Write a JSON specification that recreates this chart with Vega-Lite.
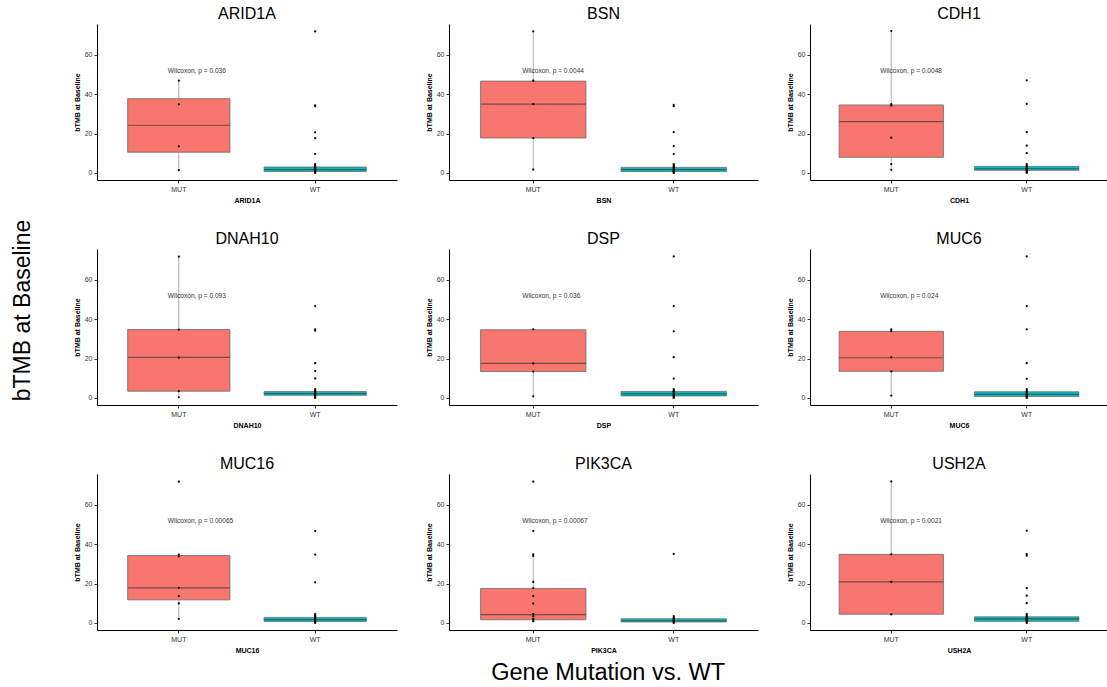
{
"$schema":"https://vega.github.io/schema/vega-lite/v6.json",
"padding":{"left":12,"top":6,"right":0,"bottom":0},
"title":{"text":"Gene Mutation vs. WT","orient":"bottom","fontSize":23.5,"offset":8,"anchor":"middle","dx":48},
"vconcat":[{"title":{"text":"bTMB at Baseline","orient":"left","fontSize":23,"offset":38,"anchor":"middle","dx":19},
"columns":3,"align":"each","spacing":{"row":28,"column":28},
"concat":[
{"width":300,"height":156,"title":"ARID1A","encoding":{"x":{"field":"x","type":"nominal","title":"ARID1A","scale":{"domain":["MUT","WT"],"paddingInner":0,"paddingOuter":0.1}}},
"layer":[
{"data":{"name":"boxes"},"transform":[{"filter":"datum.g==='ARID1A'"}],"mark":{"type":"rule","color":"#8c8c8c","strokeWidth":0.7},"encoding":{"y":{"field":"lo","type":"quantitative","title":"bTMB at Baseline","scale":{"domain":[-3.6,75.6],"nice":false,"zero":false}},"y2":{"field":"hi"}}},
{"data":{"name":"boxes"},"transform":[{"filter":"datum.g==='ARID1A'"}],"mark":{"type":"bar","width":{"band":0.75},"stroke":"#6b6b6b","strokeWidth":0.8},"encoding":{"y":{"field":"q1","type":"quantitative","title":"bTMB at Baseline"},"y2":{"field":"q3"},"fill":{"field":"x","type":"nominal","scale":{"domain":["MUT","WT"],"range":["#F8766D","#00BFC4"]},"legend":null}}},
{"data":{"name":"boxes"},"transform":[{"filter":"datum.g==='ARID1A'"}],"mark":{"type":"tick","color":"#3a3a3a","size":102,"thickness":1.2},"encoding":{"y":{"field":"med","type":"quantitative","title":"bTMB at Baseline"}}},
{"data":{"name":"pts"},"transform":[{"filter":"datum.g==='ARID1A'"}],"mark":{"type":"point","filled":true,"color":"black","size":5,"opacity":1},"encoding":{"y":{"field":"v","type":"quantitative","title":"bTMB at Baseline"}}},
{"data":{"name":"labs"},"transform":[{"filter":"datum.g==='ARID1A'"}],"mark":{"type":"text","align":"left","baseline":"middle","dx":-11,"fontSize":6.6,"color":"#333"},"encoding":{"x":{"datum":"MUT","type":"nominal"},"y":{"datum":51.5,"type":"quantitative"},"text":{"field":"p"}}}
]},
{"width":309,"height":156,"title":"BSN","encoding":{"x":{"field":"x","type":"nominal","title":"BSN","scale":{"domain":["MUT","WT"],"paddingInner":0,"paddingOuter":0.1}}},
"layer":[
{"data":{"name":"boxes"},"transform":[{"filter":"datum.g==='BSN'"}],"mark":{"type":"rule","color":"#8c8c8c","strokeWidth":0.7},"encoding":{"y":{"field":"lo","type":"quantitative","title":"bTMB at Baseline","scale":{"domain":[-3.6,75.6],"nice":false,"zero":false}},"y2":{"field":"hi"}}},
{"data":{"name":"boxes"},"transform":[{"filter":"datum.g==='BSN'"}],"mark":{"type":"bar","width":{"band":0.75},"stroke":"#6b6b6b","strokeWidth":0.8},"encoding":{"y":{"field":"q1","type":"quantitative","title":"bTMB at Baseline"},"y2":{"field":"q3"},"fill":{"field":"x","type":"nominal","scale":{"domain":["MUT","WT"],"range":["#F8766D","#00BFC4"]},"legend":null}}},
{"data":{"name":"boxes"},"transform":[{"filter":"datum.g==='BSN'"}],"mark":{"type":"tick","color":"#3a3a3a","size":105,"thickness":1.2},"encoding":{"y":{"field":"med","type":"quantitative","title":"bTMB at Baseline"}}},
{"data":{"name":"pts"},"transform":[{"filter":"datum.g==='BSN'"}],"mark":{"type":"point","filled":true,"color":"black","size":5,"opacity":1},"encoding":{"y":{"field":"v","type":"quantitative","title":"bTMB at Baseline"}}},
{"data":{"name":"labs"},"transform":[{"filter":"datum.g==='BSN'"}],"mark":{"type":"text","align":"left","baseline":"middle","dx":-11,"fontSize":6.6,"color":"#333"},"encoding":{"x":{"datum":"MUT","type":"nominal"},"y":{"datum":51.5,"type":"quantitative"},"text":{"field":"p"}}}
]},
{"width":298,"height":156,"title":"CDH1","encoding":{"x":{"field":"x","type":"nominal","title":"CDH1","scale":{"domain":["MUT","WT"],"paddingInner":0,"paddingOuter":0.1}}},
"layer":[
{"data":{"name":"boxes"},"transform":[{"filter":"datum.g==='CDH1'"}],"mark":{"type":"rule","color":"#8c8c8c","strokeWidth":0.7},"encoding":{"y":{"field":"lo","type":"quantitative","title":"bTMB at Baseline","scale":{"domain":[-3.6,75.6],"nice":false,"zero":false}},"y2":{"field":"hi"}}},
{"data":{"name":"boxes"},"transform":[{"filter":"datum.g==='CDH1'"}],"mark":{"type":"bar","width":{"band":0.77},"stroke":"#6b6b6b","strokeWidth":0.8},"encoding":{"y":{"field":"q1","type":"quantitative","title":"bTMB at Baseline"},"y2":{"field":"q3"},"fill":{"field":"x","type":"nominal","scale":{"domain":["MUT","WT"],"range":["#F8766D","#00BFC4"]},"legend":null}}},
{"data":{"name":"boxes"},"transform":[{"filter":"datum.g==='CDH1'"}],"mark":{"type":"tick","color":"#3a3a3a","size":104,"thickness":1.2},"encoding":{"y":{"field":"med","type":"quantitative","title":"bTMB at Baseline"}}},
{"data":{"name":"pts"},"transform":[{"filter":"datum.g==='CDH1'"}],"mark":{"type":"point","filled":true,"color":"black","size":5,"opacity":1},"encoding":{"y":{"field":"v","type":"quantitative","title":"bTMB at Baseline"}}},
{"data":{"name":"labs"},"transform":[{"filter":"datum.g==='CDH1'"}],"mark":{"type":"text","align":"left","baseline":"middle","dx":-11,"fontSize":6.6,"color":"#333"},"encoding":{"x":{"datum":"MUT","type":"nominal"},"y":{"datum":51.5,"type":"quantitative"},"text":{"field":"p"}}}
]},
{"width":300,"height":156,"title":"DNAH10","encoding":{"x":{"field":"x","type":"nominal","title":"DNAH10","scale":{"domain":["MUT","WT"],"paddingInner":0,"paddingOuter":0.1}}},
"layer":[
{"data":{"name":"boxes"},"transform":[{"filter":"datum.g==='DNAH10'"}],"mark":{"type":"rule","color":"#8c8c8c","strokeWidth":0.7},"encoding":{"y":{"field":"lo","type":"quantitative","title":"bTMB at Baseline","scale":{"domain":[-3.6,75.6],"nice":false,"zero":false}},"y2":{"field":"hi"}}},
{"data":{"name":"boxes"},"transform":[{"filter":"datum.g==='DNAH10'"}],"mark":{"type":"bar","width":{"band":0.75},"stroke":"#6b6b6b","strokeWidth":0.8},"encoding":{"y":{"field":"q1","type":"quantitative","title":"bTMB at Baseline"},"y2":{"field":"q3"},"fill":{"field":"x","type":"nominal","scale":{"domain":["MUT","WT"],"range":["#F8766D","#00BFC4"]},"legend":null}}},
{"data":{"name":"boxes"},"transform":[{"filter":"datum.g==='DNAH10'"}],"mark":{"type":"tick","color":"#3a3a3a","size":102,"thickness":1.2},"encoding":{"y":{"field":"med","type":"quantitative","title":"bTMB at Baseline"}}},
{"data":{"name":"pts"},"transform":[{"filter":"datum.g==='DNAH10'"}],"mark":{"type":"point","filled":true,"color":"black","size":5,"opacity":1},"encoding":{"y":{"field":"v","type":"quantitative","title":"bTMB at Baseline"}}},
{"data":{"name":"labs"},"transform":[{"filter":"datum.g==='DNAH10'"}],"mark":{"type":"text","align":"left","baseline":"middle","dx":-11,"fontSize":6.6,"color":"#333"},"encoding":{"x":{"datum":"MUT","type":"nominal"},"y":{"datum":51.5,"type":"quantitative"},"text":{"field":"p"}}}
]},
{"width":309,"height":156,"title":"DSP","encoding":{"x":{"field":"x","type":"nominal","title":"DSP","scale":{"domain":["MUT","WT"],"paddingInner":0,"paddingOuter":0.1}}},
"layer":[
{"data":{"name":"boxes"},"transform":[{"filter":"datum.g==='DSP'"}],"mark":{"type":"rule","color":"#8c8c8c","strokeWidth":0.7},"encoding":{"y":{"field":"lo","type":"quantitative","title":"bTMB at Baseline","scale":{"domain":[-3.6,75.6],"nice":false,"zero":false}},"y2":{"field":"hi"}}},
{"data":{"name":"boxes"},"transform":[{"filter":"datum.g==='DSP'"}],"mark":{"type":"bar","width":{"band":0.75},"stroke":"#6b6b6b","strokeWidth":0.8},"encoding":{"y":{"field":"q1","type":"quantitative","title":"bTMB at Baseline"},"y2":{"field":"q3"},"fill":{"field":"x","type":"nominal","scale":{"domain":["MUT","WT"],"range":["#F8766D","#00BFC4"]},"legend":null}}},
{"data":{"name":"boxes"},"transform":[{"filter":"datum.g==='DSP'"}],"mark":{"type":"tick","color":"#3a3a3a","size":105,"thickness":1.2},"encoding":{"y":{"field":"med","type":"quantitative","title":"bTMB at Baseline"}}},
{"data":{"name":"pts"},"transform":[{"filter":"datum.g==='DSP'"}],"mark":{"type":"point","filled":true,"color":"black","size":5,"opacity":1},"encoding":{"y":{"field":"v","type":"quantitative","title":"bTMB at Baseline"}}},
{"data":{"name":"labs"},"transform":[{"filter":"datum.g==='DSP'"}],"mark":{"type":"text","align":"left","baseline":"middle","dx":-11,"fontSize":6.6,"color":"#333"},"encoding":{"x":{"datum":"MUT","type":"nominal"},"y":{"datum":51.5,"type":"quantitative"},"text":{"field":"p"}}}
]},
{"width":298,"height":156,"title":"MUC6","encoding":{"x":{"field":"x","type":"nominal","title":"MUC6","scale":{"domain":["MUT","WT"],"paddingInner":0,"paddingOuter":0.1}}},
"layer":[
{"data":{"name":"boxes"},"transform":[{"filter":"datum.g==='MUC6'"}],"mark":{"type":"rule","color":"#8c8c8c","strokeWidth":0.7},"encoding":{"y":{"field":"lo","type":"quantitative","title":"bTMB at Baseline","scale":{"domain":[-3.6,75.6],"nice":false,"zero":false}},"y2":{"field":"hi"}}},
{"data":{"name":"boxes"},"transform":[{"filter":"datum.g==='MUC6'"}],"mark":{"type":"bar","width":{"band":0.77},"stroke":"#6b6b6b","strokeWidth":0.8},"encoding":{"y":{"field":"q1","type":"quantitative","title":"bTMB at Baseline"},"y2":{"field":"q3"},"fill":{"field":"x","type":"nominal","scale":{"domain":["MUT","WT"],"range":["#F8766D","#00BFC4"]},"legend":null}}},
{"data":{"name":"boxes"},"transform":[{"filter":"datum.g==='MUC6'"}],"mark":{"type":"tick","color":"#3a3a3a","size":104,"thickness":1.2},"encoding":{"y":{"field":"med","type":"quantitative","title":"bTMB at Baseline"}}},
{"data":{"name":"pts"},"transform":[{"filter":"datum.g==='MUC6'"}],"mark":{"type":"point","filled":true,"color":"black","size":5,"opacity":1},"encoding":{"y":{"field":"v","type":"quantitative","title":"bTMB at Baseline"}}},
{"data":{"name":"labs"},"transform":[{"filter":"datum.g==='MUC6'"}],"mark":{"type":"text","align":"left","baseline":"middle","dx":-11,"fontSize":6.6,"color":"#333"},"encoding":{"x":{"datum":"MUT","type":"nominal"},"y":{"datum":51.5,"type":"quantitative"},"text":{"field":"p"}}}
]},
{"width":300,"height":156,"title":"MUC16","encoding":{"x":{"field":"x","type":"nominal","title":"MUC16","scale":{"domain":["MUT","WT"],"paddingInner":0,"paddingOuter":0.1}}},
"layer":[
{"data":{"name":"boxes"},"transform":[{"filter":"datum.g==='MUC16'"}],"mark":{"type":"rule","color":"#8c8c8c","strokeWidth":0.7},"encoding":{"y":{"field":"lo","type":"quantitative","title":"bTMB at Baseline","scale":{"domain":[-3.6,75.6],"nice":false,"zero":false}},"y2":{"field":"hi"}}},
{"data":{"name":"boxes"},"transform":[{"filter":"datum.g==='MUC16'"}],"mark":{"type":"bar","width":{"band":0.75},"stroke":"#6b6b6b","strokeWidth":0.8},"encoding":{"y":{"field":"q1","type":"quantitative","title":"bTMB at Baseline"},"y2":{"field":"q3"},"fill":{"field":"x","type":"nominal","scale":{"domain":["MUT","WT"],"range":["#F8766D","#00BFC4"]},"legend":null}}},
{"data":{"name":"boxes"},"transform":[{"filter":"datum.g==='MUC16'"}],"mark":{"type":"tick","color":"#3a3a3a","size":102,"thickness":1.2},"encoding":{"y":{"field":"med","type":"quantitative","title":"bTMB at Baseline"}}},
{"data":{"name":"pts"},"transform":[{"filter":"datum.g==='MUC16'"}],"mark":{"type":"point","filled":true,"color":"black","size":5,"opacity":1},"encoding":{"y":{"field":"v","type":"quantitative","title":"bTMB at Baseline"}}},
{"data":{"name":"labs"},"transform":[{"filter":"datum.g==='MUC16'"}],"mark":{"type":"text","align":"left","baseline":"middle","dx":-11,"fontSize":6.6,"color":"#333"},"encoding":{"x":{"datum":"MUT","type":"nominal"},"y":{"datum":51.5,"type":"quantitative"},"text":{"field":"p"}}}
]},
{"width":309,"height":156,"title":"PIK3CA","encoding":{"x":{"field":"x","type":"nominal","title":"PIK3CA","scale":{"domain":["MUT","WT"],"paddingInner":0,"paddingOuter":0.1}}},
"layer":[
{"data":{"name":"boxes"},"transform":[{"filter":"datum.g==='PIK3CA'"}],"mark":{"type":"rule","color":"#8c8c8c","strokeWidth":0.7},"encoding":{"y":{"field":"lo","type":"quantitative","title":"bTMB at Baseline","scale":{"domain":[-3.6,75.6],"nice":false,"zero":false}},"y2":{"field":"hi"}}},
{"data":{"name":"boxes"},"transform":[{"filter":"datum.g==='PIK3CA'"}],"mark":{"type":"bar","width":{"band":0.75},"stroke":"#6b6b6b","strokeWidth":0.8},"encoding":{"y":{"field":"q1","type":"quantitative","title":"bTMB at Baseline"},"y2":{"field":"q3"},"fill":{"field":"x","type":"nominal","scale":{"domain":["MUT","WT"],"range":["#F8766D","#00BFC4"]},"legend":null}}},
{"data":{"name":"boxes"},"transform":[{"filter":"datum.g==='PIK3CA'"}],"mark":{"type":"tick","color":"#3a3a3a","size":105,"thickness":1.2},"encoding":{"y":{"field":"med","type":"quantitative","title":"bTMB at Baseline"}}},
{"data":{"name":"pts"},"transform":[{"filter":"datum.g==='PIK3CA'"}],"mark":{"type":"point","filled":true,"color":"black","size":5,"opacity":1},"encoding":{"y":{"field":"v","type":"quantitative","title":"bTMB at Baseline"}}},
{"data":{"name":"labs"},"transform":[{"filter":"datum.g==='PIK3CA'"}],"mark":{"type":"text","align":"left","baseline":"middle","dx":-11,"fontSize":6.6,"color":"#333"},"encoding":{"x":{"datum":"MUT","type":"nominal"},"y":{"datum":51.5,"type":"quantitative"},"text":{"field":"p"}}}
]},
{"width":298,"height":156,"title":"USH2A","encoding":{"x":{"field":"x","type":"nominal","title":"USH2A","scale":{"domain":["MUT","WT"],"paddingInner":0,"paddingOuter":0.1}}},
"layer":[
{"data":{"name":"boxes"},"transform":[{"filter":"datum.g==='USH2A'"}],"mark":{"type":"rule","color":"#8c8c8c","strokeWidth":0.7},"encoding":{"y":{"field":"lo","type":"quantitative","title":"bTMB at Baseline","scale":{"domain":[-3.6,75.6],"nice":false,"zero":false}},"y2":{"field":"hi"}}},
{"data":{"name":"boxes"},"transform":[{"filter":"datum.g==='USH2A'"}],"mark":{"type":"bar","width":{"band":0.77},"stroke":"#6b6b6b","strokeWidth":0.8},"encoding":{"y":{"field":"q1","type":"quantitative","title":"bTMB at Baseline"},"y2":{"field":"q3"},"fill":{"field":"x","type":"nominal","scale":{"domain":["MUT","WT"],"range":["#F8766D","#00BFC4"]},"legend":null}}},
{"data":{"name":"boxes"},"transform":[{"filter":"datum.g==='USH2A'"}],"mark":{"type":"tick","color":"#3a3a3a","size":104,"thickness":1.2},"encoding":{"y":{"field":"med","type":"quantitative","title":"bTMB at Baseline"}}},
{"data":{"name":"pts"},"transform":[{"filter":"datum.g==='USH2A'"}],"mark":{"type":"point","filled":true,"color":"black","size":5,"opacity":1},"encoding":{"y":{"field":"v","type":"quantitative","title":"bTMB at Baseline"}}},
{"data":{"name":"labs"},"transform":[{"filter":"datum.g==='USH2A'"}],"mark":{"type":"text","align":"left","baseline":"middle","dx":-11,"fontSize":6.6,"color":"#333"},"encoding":{"x":{"datum":"MUT","type":"nominal"},"y":{"datum":51.5,"type":"quantitative"},"text":{"field":"p"}}}
]}
]}],
"datasets":{
"boxes":[
{"g":"ARID1A","x":"MUT","lo":1.4,"q1":10.5,"med":24.2,"q3":37.7,"hi":46.8},
{"g":"ARID1A","x":"WT","lo":0,"q1":0.7,"med":1.7,"q3":3.0,"hi":4.5},
{"g":"BSN","x":"MUT","lo":1.7,"q1":17.7,"med":34.9,"q3":46.6,"hi":71.9},
{"g":"BSN","x":"WT","lo":0,"q1":0.7,"med":1.7,"q3":2.8,"hi":4.5},
{"g":"CDH1","x":"MUT","lo":1.6,"q1":7.9,"med":26.0,"q3":34.5,"hi":72},
{"g":"CDH1","x":"WT","lo":0,"q1":1.3,"med":2.1,"q3":3.3,"hi":4.5},
{"g":"DNAH10","x":"MUT","lo":0.3,"q1":3.4,"med":20.6,"q3":34.7,"hi":71.7},
{"g":"DNAH10","x":"WT","lo":0,"q1":1.3,"med":2.2,"q3":3.2,"hi":4.5},
{"g":"DSP","x":"MUT","lo":0.8,"q1":13.4,"med":17.5,"q3":34.6,"hi":34.8},
{"g":"DSP","x":"WT","lo":0,"q1":1.0,"med":2.0,"q3":3.3,"hi":4.5},
{"g":"MUC6","x":"MUT","lo":1.2,"q1":13.5,"med":20.4,"q3":33.8,"hi":34.8},
{"g":"MUC6","x":"WT","lo":0,"q1":0.7,"med":1.8,"q3":3.1,"hi":4.5},
{"g":"MUC16","x":"MUT","lo":2.0,"q1":11.7,"med":17.8,"q3":34.2,"hi":34.7},
{"g":"MUC16","x":"WT","lo":0,"q1":0.7,"med":1.7,"q3":2.8,"hi":4.5},
{"g":"PIK3CA","x":"MUT","lo":0.8,"q1":1.6,"med":4.2,"q3":17.5,"hi":34.8},
{"g":"PIK3CA","x":"WT","lo":0,"q1":0.5,"med":1.1,"q3":2.1,"hi":3.4},
{"g":"USH2A","x":"MUT","lo":4.3,"q1":4.4,"med":20.8,"q3":34.8,"hi":71.8},
{"g":"USH2A","x":"WT","lo":0,"q1":0.8,"med":2.0,"q3":3.1,"hi":4.5}
],
"labs":[
{"g":"ARID1A","p":"Wilcoxon, p = 0.036"},
{"g":"BSN","p":"Wilcoxon, p = 0.0044"},
{"g":"CDH1","p":"Wilcoxon, p = 0.0048"},
{"g":"DNAH10","p":"Wilcoxon, p = 0.093"},
{"g":"DSP","p":"Wilcoxon, p = 0.036"},
{"g":"MUC6","p":"Wilcoxon, p = 0.024"},
{"g":"MUC16","p":"Wilcoxon, p = 0.00065"},
{"g":"PIK3CA","p":"Wilcoxon, p = 0.00067"},
{"g":"USH2A","p":"Wilcoxon, p = 0.0021"}
],
"pts":[
{"g":"ARID1A","x":"MUT","v":46.8},{"g":"ARID1A","x":"MUT","v":34.8},{"g":"ARID1A","x":"MUT","v":13.5},{"g":"ARID1A","x":"MUT","v":1.4},
{"g":"ARID1A","x":"WT","v":71.8},{"g":"ARID1A","x":"WT","v":34.3},{"g":"ARID1A","x":"WT","v":33.8},{"g":"ARID1A","x":"WT","v":20.6},{"g":"ARID1A","x":"WT","v":17.6},{"g":"ARID1A","x":"WT","v":9.6},
{"g":"ARID1A","x":"WT","v":0},{"g":"ARID1A","x":"WT","v":0.5},{"g":"ARID1A","x":"WT","v":1.0},{"g":"ARID1A","x":"WT","v":1.4},{"g":"ARID1A","x":"WT","v":1.8},{"g":"ARID1A","x":"WT","v":2.2},{"g":"ARID1A","x":"WT","v":2.7},{"g":"ARID1A","x":"WT","v":3.2},{"g":"ARID1A","x":"WT","v":3.8},{"g":"ARID1A","x":"WT","v":4.5},
{"g":"BSN","x":"MUT","v":71.9},{"g":"BSN","x":"MUT","v":46.8},{"g":"BSN","x":"MUT","v":34.9},{"g":"BSN","x":"MUT","v":17.7},{"g":"BSN","x":"MUT","v":1.7},
{"g":"BSN","x":"WT","v":34.5},{"g":"BSN","x":"WT","v":33.9},{"g":"BSN","x":"WT","v":20.7},{"g":"BSN","x":"WT","v":13.6},{"g":"BSN","x":"WT","v":9.6},
{"g":"BSN","x":"WT","v":0},{"g":"BSN","x":"WT","v":0.5},{"g":"BSN","x":"WT","v":1.0},{"g":"BSN","x":"WT","v":1.4},{"g":"BSN","x":"WT","v":1.8},{"g":"BSN","x":"WT","v":2.2},{"g":"BSN","x":"WT","v":2.7},{"g":"BSN","x":"WT","v":3.2},{"g":"BSN","x":"WT","v":3.8},{"g":"BSN","x":"WT","v":4.5},
{"g":"CDH1","x":"MUT","v":72},{"g":"CDH1","x":"MUT","v":34.9},{"g":"CDH1","x":"MUT","v":34.2},{"g":"CDH1","x":"MUT","v":17.9},{"g":"CDH1","x":"MUT","v":4.4},{"g":"CDH1","x":"MUT","v":1.6},
{"g":"CDH1","x":"WT","v":47},{"g":"CDH1","x":"WT","v":35},{"g":"CDH1","x":"WT","v":20.7},{"g":"CDH1","x":"WT","v":13.8},{"g":"CDH1","x":"WT","v":10},
{"g":"CDH1","x":"WT","v":0},{"g":"CDH1","x":"WT","v":0.5},{"g":"CDH1","x":"WT","v":1.0},{"g":"CDH1","x":"WT","v":1.4},{"g":"CDH1","x":"WT","v":1.8},{"g":"CDH1","x":"WT","v":2.2},{"g":"CDH1","x":"WT","v":2.7},{"g":"CDH1","x":"WT","v":3.2},{"g":"CDH1","x":"WT","v":3.8},{"g":"CDH1","x":"WT","v":4.5},
{"g":"DNAH10","x":"MUT","v":71.7},{"g":"DNAH10","x":"MUT","v":34.7},{"g":"DNAH10","x":"MUT","v":20.4},{"g":"DNAH10","x":"MUT","v":3.4},{"g":"DNAH10","x":"MUT","v":0.3},
{"g":"DNAH10","x":"WT","v":46.6},{"g":"DNAH10","x":"WT","v":34.8},{"g":"DNAH10","x":"WT","v":34.1},{"g":"DNAH10","x":"WT","v":17.6},{"g":"DNAH10","x":"WT","v":13.6},{"g":"DNAH10","x":"WT","v":9.9},
{"g":"DNAH10","x":"WT","v":0},{"g":"DNAH10","x":"WT","v":0.5},{"g":"DNAH10","x":"WT","v":1.0},{"g":"DNAH10","x":"WT","v":1.4},{"g":"DNAH10","x":"WT","v":1.8},{"g":"DNAH10","x":"WT","v":2.2},{"g":"DNAH10","x":"WT","v":2.7},{"g":"DNAH10","x":"WT","v":3.2},{"g":"DNAH10","x":"WT","v":3.8},{"g":"DNAH10","x":"WT","v":4.5},
{"g":"DSP","x":"MUT","v":34.8},{"g":"DSP","x":"MUT","v":17.5},{"g":"DSP","x":"MUT","v":13.4},{"g":"DSP","x":"MUT","v":0.8},
{"g":"DSP","x":"WT","v":71.8},{"g":"DSP","x":"WT","v":46.6},{"g":"DSP","x":"WT","v":33.8},{"g":"DSP","x":"WT","v":20.7},{"g":"DSP","x":"WT","v":9.8},
{"g":"DSP","x":"WT","v":0},{"g":"DSP","x":"WT","v":0.5},{"g":"DSP","x":"WT","v":1.0},{"g":"DSP","x":"WT","v":1.4},{"g":"DSP","x":"WT","v":1.8},{"g":"DSP","x":"WT","v":2.2},{"g":"DSP","x":"WT","v":2.7},{"g":"DSP","x":"WT","v":3.2},{"g":"DSP","x":"WT","v":3.8},{"g":"DSP","x":"WT","v":4.5},
{"g":"MUC6","x":"MUT","v":34.8},{"g":"MUC6","x":"MUT","v":33.9},{"g":"MUC6","x":"MUT","v":20.6},{"g":"MUC6","x":"MUT","v":13.5},{"g":"MUC6","x":"MUT","v":1.2},
{"g":"MUC6","x":"WT","v":71.8},{"g":"MUC6","x":"WT","v":46.6},{"g":"MUC6","x":"WT","v":34.8},{"g":"MUC6","x":"WT","v":17.6},{"g":"MUC6","x":"WT","v":9.7},
{"g":"MUC6","x":"WT","v":0},{"g":"MUC6","x":"WT","v":0.5},{"g":"MUC6","x":"WT","v":1.0},{"g":"MUC6","x":"WT","v":1.4},{"g":"MUC6","x":"WT","v":1.8},{"g":"MUC6","x":"WT","v":2.2},{"g":"MUC6","x":"WT","v":2.7},{"g":"MUC6","x":"WT","v":3.2},{"g":"MUC6","x":"WT","v":3.8},{"g":"MUC6","x":"WT","v":4.5},
{"g":"MUC16","x":"MUT","v":71.7},{"g":"MUC16","x":"MUT","v":34.7},{"g":"MUC16","x":"MUT","v":33.8},{"g":"MUC16","x":"MUT","v":17.8},{"g":"MUC16","x":"MUT","v":13.6},{"g":"MUC16","x":"MUT","v":9.9},{"g":"MUC16","x":"MUT","v":2.0},
{"g":"MUC16","x":"WT","v":46.6},{"g":"MUC16","x":"WT","v":34.7},{"g":"MUC16","x":"WT","v":20.6},
{"g":"MUC16","x":"WT","v":0},{"g":"MUC16","x":"WT","v":0.5},{"g":"MUC16","x":"WT","v":1.0},{"g":"MUC16","x":"WT","v":1.4},{"g":"MUC16","x":"WT","v":1.8},{"g":"MUC16","x":"WT","v":2.2},{"g":"MUC16","x":"WT","v":2.7},{"g":"MUC16","x":"WT","v":3.2},{"g":"MUC16","x":"WT","v":3.8},{"g":"MUC16","x":"WT","v":4.5},
{"g":"PIK3CA","x":"MUT","v":71.7},{"g":"PIK3CA","x":"MUT","v":46.6},{"g":"PIK3CA","x":"MUT","v":34.8},{"g":"PIK3CA","x":"MUT","v":34.0},{"g":"PIK3CA","x":"MUT","v":20.8},{"g":"PIK3CA","x":"MUT","v":17.6},{"g":"PIK3CA","x":"MUT","v":13.6},{"g":"PIK3CA","x":"MUT","v":9.8},{"g":"PIK3CA","x":"MUT","v":4.6},{"g":"PIK3CA","x":"MUT","v":3.4},{"g":"PIK3CA","x":"MUT","v":2.1},{"g":"PIK3CA","x":"MUT","v":1.3},{"g":"PIK3CA","x":"MUT","v":0.8},
{"g":"PIK3CA","x":"WT","v":35},
{"g":"PIK3CA","x":"WT","v":0},{"g":"PIK3CA","x":"WT","v":0.5},{"g":"PIK3CA","x":"WT","v":1.0},{"g":"PIK3CA","x":"WT","v":1.4},{"g":"PIK3CA","x":"WT","v":1.8},{"g":"PIK3CA","x":"WT","v":2.2},{"g":"PIK3CA","x":"WT","v":2.7},{"g":"PIK3CA","x":"WT","v":3.4},
{"g":"USH2A","x":"MUT","v":71.8},{"g":"USH2A","x":"MUT","v":34.8},{"g":"USH2A","x":"MUT","v":20.8},{"g":"USH2A","x":"MUT","v":4.3},
{"g":"USH2A","x":"WT","v":46.8},{"g":"USH2A","x":"WT","v":34.9},{"g":"USH2A","x":"WT","v":34.1},{"g":"USH2A","x":"WT","v":17.6},{"g":"USH2A","x":"WT","v":13.8},{"g":"USH2A","x":"WT","v":10},
{"g":"USH2A","x":"WT","v":0},{"g":"USH2A","x":"WT","v":0.5},{"g":"USH2A","x":"WT","v":1.0},{"g":"USH2A","x":"WT","v":1.4},{"g":"USH2A","x":"WT","v":1.8},{"g":"USH2A","x":"WT","v":2.2},{"g":"USH2A","x":"WT","v":2.7},{"g":"USH2A","x":"WT","v":3.2},{"g":"USH2A","x":"WT","v":3.8},{"g":"USH2A","x":"WT","v":4.5}
]
},
"config":{
"font":"Liberation Sans",
"background":"white",
"view":{"stroke":null},
"title":{"font":"Liberation Sans","fontSize":16,"fontWeight":"normal","color":"black","offset":2},
"axis":{"grid":false,"domainColor":"black","domainWidth":1,"tickColor":"#333","tickSize":3,"labelFont":"Liberation Sans","labelFontSize":7,"labelColor":"#333","labelPadding":2,"titleFont":"Liberation Sans","titleFontSize":7,"titleFontWeight":"bold","titleColor":"black","titlePadding":4},
"axisX":{"labelAngle":0},
"axisY":{"tickCount":4}
}
}
